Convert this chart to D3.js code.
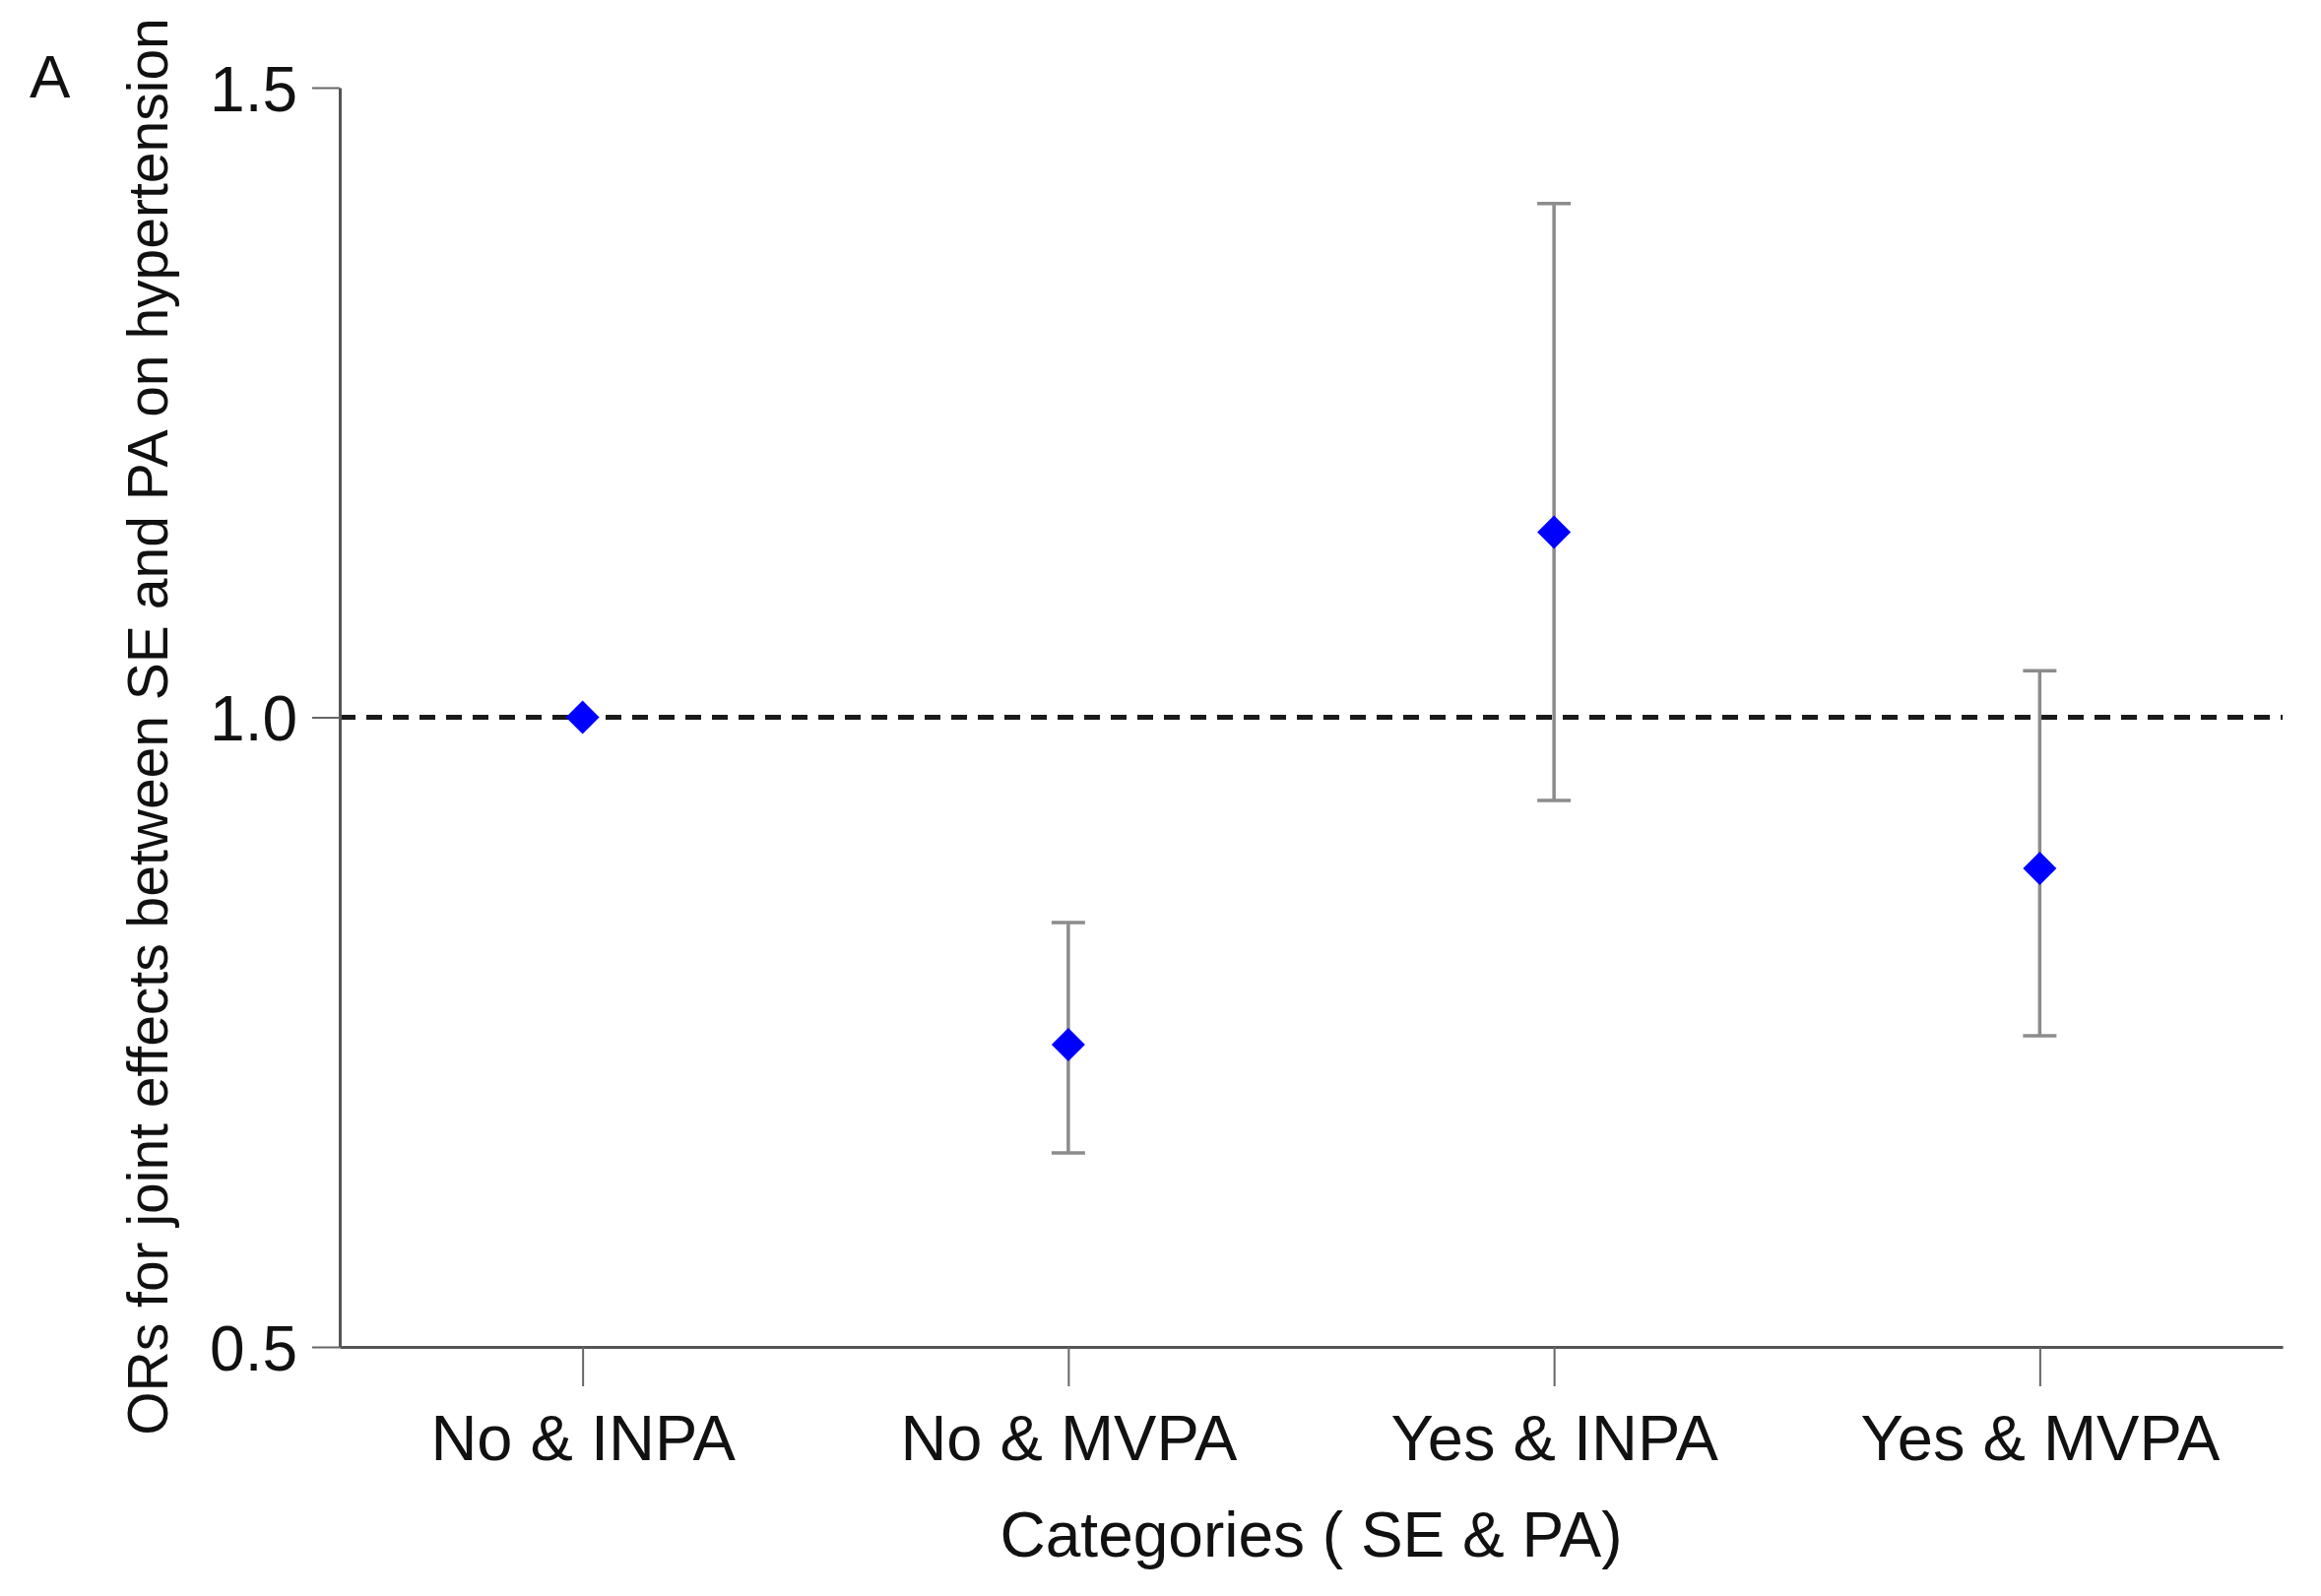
<!DOCTYPE html>
<html>
<head>
<meta charset="utf-8">
<script src="https://cdn.jsdelivr.net/npm/d3@7.9.0/dist/d3.min.js"></script>
<style>
  body { margin: 0; background: #fff; }
  text { font-family: "Liberation Sans", Arial, sans-serif; fill: #111; }
</style>
</head>
<body>
<svg id="chart"></svg>
<script>
const categories = ["No & INPA", "No & MVPA", "Yes & INPA", "Yes & MVPA"];
const orValues = [1.0, 0.740, 1.147, 0.880];
const lowerCI = [null, 0.654, 0.934, 0.747];
const upperCI = [null, 0.837, 1.408, 1.037];
const yTicks = [0.5, 1.0, 1.5];

const W = 2357, H = 1621;
const plotLeft = 345, plotRight = 2318, plotTop = 89, plotBottom = 1368;

const data = categories.map((c, i) => ({
    cat: c, or: orValues[i], lo: lowerCI[i], hi: upperCI[i]
}));

const svg = d3.select("#chart")
    .attr("width", W)
    .attr("height", H);

const x = d3.scalePoint()
    .domain(categories)
    .range([plotLeft, plotRight])
    .padding(0.5);

const y = d3.scaleLinear()
    .domain([0.5, 1.5])
    .range([plotBottom, plotTop]);

// reference line at OR = 1
svg.append("line")
    .attr("x1", plotLeft).attr("x2", plotRight)
    .attr("y1", y(1)).attr("y2", y(1))
    .attr("stroke", "#1a1a1a")
    .attr("stroke-width", 5)
    .attr("stroke-dasharray", "16 11");

// axes
const yAxis = svg.append("g")
    .attr("transform", `translate(${plotLeft},0)`)
    .call(d3.axisLeft(y).tickValues(yTicks).tickFormat(d3.format(".1f"))
        .tickSize(28).tickSizeOuter(0).tickPadding(15));

const xAxis = svg.append("g")
    .attr("transform", `translate(0,${plotBottom})`)
    .call(d3.axisBottom(x).tickSize(40).tickSizeOuter(0).tickPadding(29));

[yAxis, xAxis].forEach(g => {
    g.select(".domain").attr("stroke", "#555").attr("stroke-width", 3);
    g.selectAll(".tick line").attr("stroke", "#666").attr("stroke-width", 2);
    g.selectAll(".tick text")
        .attr("font-size", 64)
        .attr("font-family", "Liberation Sans, Arial, sans-serif")
        .attr("fill", "#111");
});
yAxis.selectAll(".tick text").attr("dy", "0.36em");
xAxis.selectAll(".tick text").attr("font-size", 65);

// error bars
const eb = data.filter(d => d.lo != null);
const cap = 17;

svg.selectAll(".whisker")
    .data(eb)
    .enter()
    .append("line")
    .attr("class", "whisker")
    .attr("x1", d => x(d.cat)).attr("x2", d => x(d.cat))
    .attr("y1", d => y(d.lo)).attr("y2", d => y(d.hi))
    .attr("stroke", "#8c8c8c")
    .attr("stroke-width", 3.5);

svg.selectAll(".capHi")
    .data(eb)
    .enter()
    .append("line")
    .attr("class", "capHi")
    .attr("x1", d => x(d.cat) - cap).attr("x2", d => x(d.cat) + cap)
    .attr("y1", d => y(d.hi)).attr("y2", d => y(d.hi))
    .attr("stroke", "#8c8c8c")
    .attr("stroke-width", 3.5);

svg.selectAll(".capLo")
    .data(eb)
    .enter()
    .append("line")
    .attr("class", "capLo")
    .attr("x1", d => x(d.cat) - cap).attr("x2", d => x(d.cat) + cap)
    .attr("y1", d => y(d.lo)).attr("y2", d => y(d.lo))
    .attr("stroke", "#8c8c8c")
    .attr("stroke-width", 3.5);

// diamonds
const r = 17;
svg.selectAll(".pt")
    .data(data)
    .enter()
    .append("path")
    .attr("class", "pt")
    .attr("d", `M0,${-r}L${r},0L0,${r}L${-r},0Z`)
    .attr("transform", d => `translate(${x(d.cat)},${y(d.or)})`)
    .attr("fill", "#0000ff");

// axis titles
svg.append("text")
    .attr("x", (plotLeft + plotRight) / 2)
    .attr("y", 1581)
    .attr("text-anchor", "middle")
    .attr("font-size", 64)
    .text("Categories ( SE & PA)");

svg.append("text")
    .attr("transform", "translate(170, 738) rotate(-90)")
    .attr("text-anchor", "middle")
    .attr("font-size", 57)
    .text("ORs for joint effects between SE and PA on hypertension");

svg.append("text")
    .attr("x", 30)
    .attr("y", 99)
    .attr("font-size", 62)
    .text("A");
</script>
</body>
</html>
